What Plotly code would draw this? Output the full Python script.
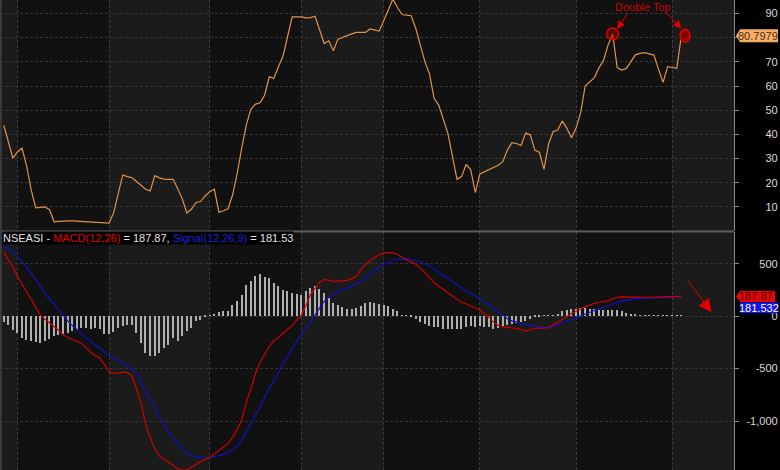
import plotly.graph_objects as go

# ---------------- data ----------------
rsi = [43.8, 37, 30.2, 32.7, 34.3, 27, 17, 9.6, 9.8, 10,
       8.8, 3.8, 4.0, 4.2, 4.2, 4.2, 4.1, 4.0, 3.6, 3.5,
       3.6, 3.5, 3.4, 3.3, 7.5, 16, 23.2, 22.5, 22.1, 20.5,
       18.8, 17.3, 16.6, 22.9, 22, 21.5, 21.4, 21.4, 17.5, 13.3,
       7.5, 9, 11.8, 12.2, 14.5, 16.3, 17.3, 7.8, 8.4, 9.2,
       15, 23.9, 34.5, 44, 50.5, 52.5, 53.1, 56.3, 63.8, 63.2,
       68, 72.4, 80.5, 88.6, 88.6, 88.6, 88.2, 88.3, 88.9, 83,
       77.6, 78.7, 74.6, 79.4, 80.2, 81.1, 81.6, 82.2, 82.2, 82.2,
       83.6, 83.2, 82.7, 87, 91.5, 96, 92.5, 89.6, 89.3, 89.1,
       83.8, 77, 70, 65, 54.9, 52.1, 46.5, 40.5, 31, 21.4,
       22.5, 27.6, 25.3, 15.9, 23.6, 24.5, 25.3, 26, 27.2, 28.7,
       33.5, 36.6, 36.2, 35.4, 40.5, 39.8, 33.5, 32.6, 25.5, 36,
       41.2, 41.8, 45.5, 42.5, 38.6, 42.5, 49, 60, 61.8, 63.5,
       67.5, 70.5, 77, 81.5, 67.5, 66.6, 67.3, 70, 73, 73.5,
       73.8, 73.3, 72.8, 67, 61.5, 68, 67.8, 67.3, 80.7979]

macd = [607, 540, 470, 380, 300, 230, 160, 80, 10, -30,
        -65, -95, -135, -180, -205, -225, -240, -260, -300, -345,
        -375, -400, -460, -530, -546, -540, -536, -536, -570, -690,
        -830, -1030, -1160, -1265, -1335, -1360, -1390, -1425, -1455, -1468,
        -1465, -1440, -1410, -1385, -1365, -1346, -1315, -1282, -1250, -1215,
        -1155, -1080, -990, -820, -690, -545, -440, -360, -290, -235,
        -205, -165, -130, -90, -40, 10, 100, 205, 265, 320,
        350, 340, 333, 333, 335, 340, 355, 380, 440, 490,
        525, 560, 585, 600, 605, 603, 590, 560, 535, 515,
        495, 460, 410, 360, 320, 285, 255, 225, 190, 160,
        130, 118, 100, 75, 57, 25, -10, -60, -90, -102,
        -106, -112, -118, -128, -140, -130, -118, -115, -112, -111,
        -85, -60, -30, -5, 25, 50, 68, 90, 108, 122,
        132, 138, 145, 165, 180, 184, 185, 183, 181, 180,
        178, 178, 180, 181, 182, 183, 184, 186, 187.87]

signal = [670, 645, 612, 565, 520, 470, 410, 345, 270, 215,
          165, 120, 60, 5, -45, -90, -130, -170, -205, -240,
          -275, -305, -340, -375, -400, -430, -455, -480, -505, -545,
          -620, -720, -790, -870, -960, -1040, -1110, -1165, -1215, -1270,
          -1310, -1330, -1345, -1352, -1355, -1350, -1342, -1330, -1318, -1305,
          -1275, -1235, -1180, -1100, -1030, -950, -864, -770, -690, -615,
          -540, -460, -380, -310, -240, -175, -120, -60, 10, 80,
          140, 180, 210, 235, 250, 265, 285, 310, 330, 370,
          407, 435, 465, 490, 515, 535, 542, 545, 545, 540,
          533, 520, 500, 480, 450, 420, 390, 360, 330, 295,
          265, 240, 220, 195, 165, 140, 105, 70, 40, 10,
          -25, -45, -55, -75, -85, -90, -95, -100, -105, -108,
          -100, -85, -65, -45, -35, -17, 2, 18, 35, 53,
          68, 85, 102, 115, 130, 143, 153, 162, 166, 168,
          170, 172, 174, 175, 176, 177, 178, 180, 181.532]

hist = [-63, -86, -133, -168, -208, -233, -244, -250, -257, -240,
        -225, -197, -181, -173, -162, -149, -135, -116, -120, -125,
        -117, -130, -175, -170, -157, -120, -97, -90, -86, -165,
        -260, -356, -387, -380, -360, -308, -276, -213, -238, -197,
        -143, -117, -54, -38, -6, 3, 16, 35, 41, 48,
        98, 137, 200, 289, 330, 378, 398, 368, 355, 311,
        283, 248, 235, 216, 208, 200, 235, 264, 283, 255,
        220, 168, 124, 105, 84, 67, 60, 73, 89, 118,
        134, 124, 111, 105, 89, 67, 45, 6, 3, -8,
        -35, -58, -81, -97, -106, -112, -122, -125, -127, -125,
        -127, -110, -98, -105, -102, -108, -105, -127, -116, -98,
        -86, -76, -70, -63, -48, -32, -16, -6, -2, 2,
        6, 19, 41, 57, 60, 66, 70, 73, 68, 64,
        58, 55, 55, 55, 52, 41, 25, 19, 10, 6,
        6, 6, 5, 5, 3, 3, 3, 3, 3]

bars = list(range(len(rsi)))
month_starts = [3, 23, 45, 65, 83, 104, 125, 146]

rsi_ticks = [10, 20, 30, 40, 50, 60, 70, 80, 90]
# the "80" label sits under the last-value tag in the reference
rsi_ticktext = ["10", "20", "30", "40", "50", "60", "70", "", "90"]
macd_ticks = [-1000, -500, 0, 500]
macd_ticktext = ["-1,000", "-500", "0", "500"]

first_top = 133          # bar index of first top
second_top = len(rsi) - 1

# ---------------- styling ----------------
FONT = "Arial, Liberation Sans, sans-serif"
X_RANGE = [-0.81, 159.5]
RSI_RANGE = [0, 95.6]
MACD_RANGE = [-1467, 798]
TOP_DOM = [0.5085, 1.0]
BOT_DOM = [0.0, 0.5055]
XDOM_R = 734 / 780
GRID = "#343434"
AXLINE = "#8a8a8a"
TICKFONT = dict(family=FONT, size=11, color="#dcdcdc")

fig = go.Figure()

fig.add_trace(go.Bar(x=bars, y=hist, xaxis="x", yaxis="y2", width=0.3,
                     marker=dict(color="#b0b0b0", line=dict(width=0)),
                     showlegend=False, hoverinfo="skip"))
fig.add_trace(go.Scatter(x=bars, y=signal, xaxis="x", yaxis="y2", mode="lines",
                         line=dict(color="#1010c8", width=1.2), showlegend=False))
fig.add_trace(go.Scatter(x=bars, y=macd, xaxis="x", yaxis="y2", mode="lines",
                         line=dict(color="#d00000", width=1.2), showlegend=False))
fig.add_trace(go.Scatter(x=bars, y=rsi, xaxis="x", yaxis="y", mode="lines",
                         line=dict(color="#e0924a", width=1.2), showlegend=False))
# invisible carriers so the right-aligned label axes get drawn
fig.add_trace(go.Scatter(x=bars, y=rsi, xaxis="x", yaxis="y3", mode="lines",
                         line=dict(width=0), opacity=0, showlegend=False, hoverinfo="skip"))
fig.add_trace(go.Scatter(x=bars, y=macd, xaxis="x", yaxis="y4", mode="lines",
                         line=dict(width=0), opacity=0, showlegend=False, hoverinfo="skip"))

shapes = []
# alternating month stripes (lighter ones)
bounds = [X_RANGE[0]] + month_starts + [X_RANGE[1]]
for k in range(len(bounds) - 1):
    if k % 2 == 0:
        shapes.append(dict(type="rect", xref="x", yref="paper", x0=bounds[k], x1=bounds[k + 1],
                           y0=0, y1=1, fillcolor="#1b1b1b", line=dict(width=0), layer="below"))
# panel divider and left edge
shapes.append(dict(type="line", xref="paper", yref="paper", x0=0, x1=XDOM_R,
                   y0=TOP_DOM[0] - 0.001, y1=TOP_DOM[0] - 0.001, line=dict(color="#5e5e5e", width=2)))
shapes.append(dict(type="line", xref="paper", yref="paper", x0=0.001, x1=0.001, y0=0, y1=1,
                   line=dict(color="#3c3c3c", width=2)))
# double top circles
shapes.append(dict(type="circle", xref="x", yref="y", xsizemode="pixel", ysizemode="pixel",
                   xanchor=first_top, yanchor=rsi[first_top], x0=-6, x1=6, y0=-6, y1=6,
                   fillcolor="rgba(150,0,0,0.55)", line=dict(color="#e00000", width=1.5)))
shapes.append(dict(type="circle", xref="x", yref="y", xsizemode="pixel", ysizemode="pixel",
                   xanchor=second_top + 0.8, yanchor=rsi[second_top], x0=-5, x1=5, y0=-6.5, y1=6.5,
                   fillcolor="#8a0000", line=dict(color="#e00000", width=1.5)))
# value tags
shapes.append(dict(type="path", xref="paper", yref="y", xsizemode="pixel", ysizemode="pixel",
                   xanchor=1, yanchor=rsi[-1],
                   path="M -44 0 L -40 6.5 L -2 6.5 L -2 -6.5 L -40 -6.5 Z",
                   fillcolor="#f7ae66", line=dict(width=0)))
shapes.append(dict(type="path", xref="paper", yref="y2", xsizemode="pixel", ysizemode="pixel",
                   xanchor=1, yanchor=macd[-1],
                   path="M -44 0 L -40 5.5 L -5 5.5 L -5 -5.5 L -40 -5.5 Z",
                   fillcolor="#ee0000", line=dict(width=0)))
shapes.append(dict(type="path", xref="paper", yref="y2", xsizemode="pixel", ysizemode="pixel",
                   xanchor=1, yanchor=signal[-1],
                   path="M -40 -5.5 L -2 -5.5 L -2 -16 L -40 -16 Z",
                   fillcolor="#1414f0", line=dict(width=0)))

annotations = [
    dict(text="Double Top", xref="x", yref="y", x=139.6, y=92.6, showarrow=False,
         font=dict(family=FONT, size=11, color="#d00000")),
    dict(text="", xref="x", yref="y", x=first_top + 1, y=rsi[first_top] + 2, ax=11, ay=-17,
         showarrow=True, arrowhead=2, arrowsize=1.6, arrowwidth=1, arrowcolor="#e00000"),
    dict(text="", xref="x", yref="y", x=second_top, y=rsi[second_top] + 3, ax=-17, ay=-18,
         showarrow=True, arrowhead=2, arrowsize=1.6, arrowwidth=1, arrowcolor="#e00000"),
    dict(text="", xref="x", yref="y2", x=154.6, y=38, ax=-25, ay=-33,
         showarrow=True, arrowhead=2, arrowsize=2.6, arrowwidth=1, arrowcolor="#e00000"),
    dict(text="NSEASI - <span style='color:#e00000'>MACD(12,26)</span> = 187.87, "
              "<span style='color:#2020d8'>Signal(12,26,9)</span> = 181.53",
         xref="paper", yref="paper", x=0.003, y=1 - 237.5 / 470, xanchor="left", yanchor="middle",
         showarrow=False, bgcolor="#000000", borderpad=0,
         font=dict(family=FONT, size=11, color="#e6e6e6")),
    dict(text="80.7979", xref="paper", yref="y", x=758 / 780, y=rsi[-1], xanchor="center",
         yanchor="middle", showarrow=False, font=dict(family=FONT, size=11, color="#4a3010")),
    dict(text="187.87", xref="paper", yref="y2", x=756 / 780, y=macd[-1], xanchor="center",
         yanchor="middle", showarrow=False, font=dict(family=FONT, size=11, color="#300000")),
    dict(text="181.532", xref="paper", yref="y2", x=759 / 780, y=signal[-1], yshift=-10.8,
         xanchor="center", yanchor="middle", showarrow=False,
         font=dict(family=FONT, size=11, color="#ffffff")),
]

axis_common = dict(side="right", anchor="x", showticklabels=False, ticks="outside", ticklen=4,
                   tickcolor=AXLINE, showline=True, linecolor=AXLINE, linewidth=1,
                   gridcolor=GRID, griddash="3px,2px", gridwidth=1, zeroline=False,
                   automargin=False, fixedrange=True)
label_common = dict(side="left", anchor="free", position=0.997, showgrid=False, showline=False,
                    zeroline=False, ticks="", tickfont=TICKFONT, automargin=False)

fig.update_layout(
    width=780, height=470,
    margin=dict(l=0, r=0, t=0, b=0),
    paper_bgcolor="#000000", plot_bgcolor="#111111",
    bargap=0, barmode="overlay",
    xaxis=dict(domain=[0, XDOM_R], range=X_RANGE, anchor="y2", showticklabels=False,
               tickvals=month_starts, ticks="", showgrid=True, gridcolor="#3a3a3a",
               griddash="3px,2px", zeroline=False, showline=False, automargin=False),
    yaxis=dict(domain=TOP_DOM, range=RSI_RANGE, tickvals=rsi_ticks, **axis_common),
    yaxis2=dict(domain=BOT_DOM, range=MACD_RANGE, tickvals=macd_ticks, **axis_common),
    yaxis3=dict(overlaying="y", range=RSI_RANGE, tickvals=rsi_ticks, ticktext=rsi_ticktext,
                **label_common),
    yaxis4=dict(overlaying="y2", range=MACD_RANGE, tickvals=macd_ticks, ticktext=macd_ticktext,
                **label_common),
    shapes=shapes, annotations=annotations,
    showlegend=False,
)

fig.write_html("out.html", config={"displayModeBar": False},
               post_script="document.body.style.margin='0';document.body.style.overflow='hidden';")
